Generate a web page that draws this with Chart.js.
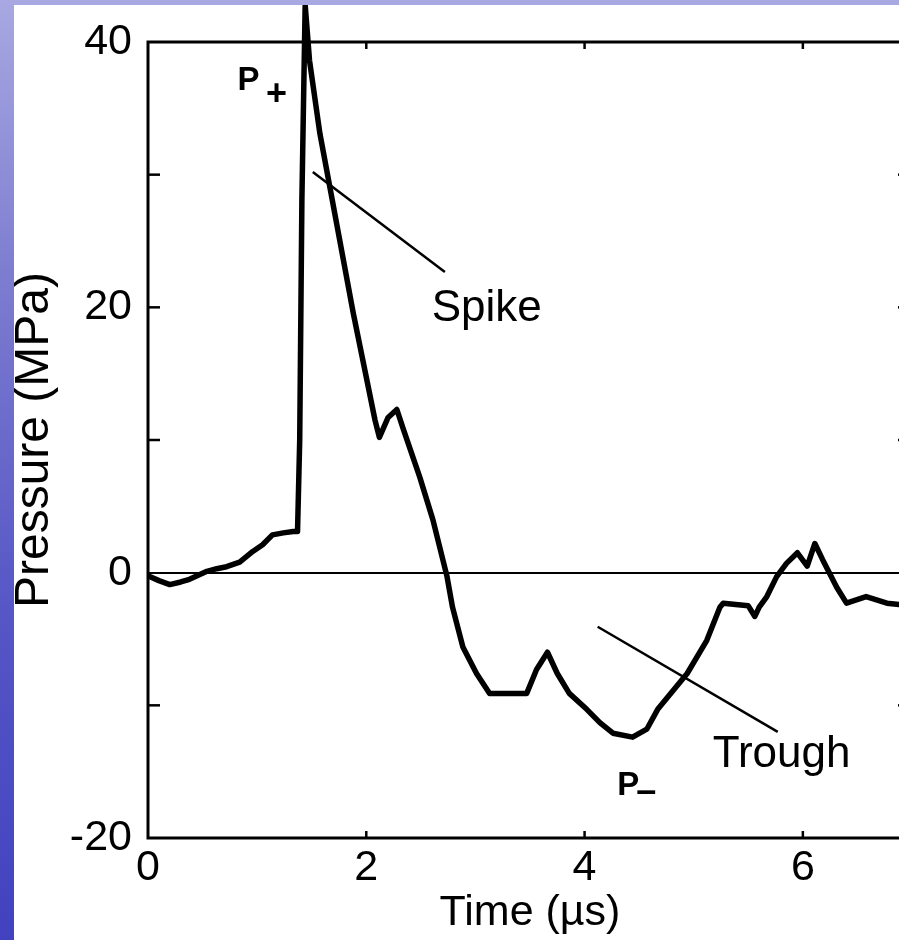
<!DOCTYPE html>
<html>
<head>
<meta charset="utf-8">
<title>Pressure trace</title>
<script src="https://cdn.jsdelivr.net/npm/chart.js@4.4.1/dist/chart.umd.min.js"></script>
<style>
  html, body { margin: 0; padding: 0; overflow: hidden; }
  body {
    width: 899px; height: 940px; position: relative;
    background: linear-gradient(to bottom, #a8a8e2 0%, #7c7cd0 30%, #5656c6 65%, #4242c0 100%);
  }
  #wrap { position: absolute; left: 14px; top: 5px; width: 920px; height: 935px; background: #fff; }
</style>
</head>
<body>
<div id="wrap"><canvas id="pressureChart"></canvas></div>
<script>
// Pressure trace
const timeUs = [0.02, 0.10, 0.20, 0.30, 0.38, 0.46, 0.54, 0.63, 0.72, 0.84, 0.96, 1.05, 1.14, 1.24, 1.33, 1.37,
  1.39, 1.41, 1.44, 1.48, 1.575, 1.67, 1.88, 2.08, 2.12, 2.20, 2.28, 2.34, 2.49, 2.61, 2.74, 2.79, 2.885,
  3.01, 3.13, 3.30, 3.47, 3.56, 3.66, 3.75, 3.86, 4.02, 4.14, 4.26, 4.44, 4.57, 4.67, 4.94, 5.12, 5.24,
  5.27, 5.50, 5.56, 5.60, 5.67, 5.76, 5.85, 5.95, 6.04, 6.11, 6.18, 6.31, 6.40, 6.58, 6.77, 6.88];
const pressureMPa = [-0.3, -0.6, -0.9, -0.7, -0.5, -0.2, 0.1, 0.3, 0.45, 0.8, 1.6, 2.1, 2.85, 3.0, 3.1, 3.1,
  10.0, 28.1, 42.8, 38.6, 33.1, 28.9, 19.6, 11.5, 10.2, 11.7, 12.3, 10.8, 7.2, 4.0, -0.3, -2.6, -5.6,
  -7.6, -9.1, -9.1, -9.1, -7.3, -6.0, -7.6, -9.1, -10.3, -11.3, -12.1, -12.4, -11.8, -10.3, -7.6, -5.1, -2.6,
  -2.3, -2.5, -3.3, -2.6, -1.8, -0.3, 0.7, 1.5, 0.5, 2.2, 1.0, -1.1, -2.3, -1.8, -2.3, -2.4];

// axis ticks
const xTickMarks = [2, 4, 6];
const yTickMarks = [-10, 10, 20, 30];

// annotations (data coordinates)
const notes = [
  { text: 'Spike', t: 2.60, p: 18.97, line: [[1.51, 30.2], [2.72, 22.67]] },
  { text: 'Trough', t: 5.174, p: -14.63, line: [[4.12, -4.08], [5.77, -12.0]] }
];
const peakLabels = [
  { text: 'P', sub: '+', t: 0.82, p: 36.4, dx: 39, dy: 5 },
  { text: 'P', sub: '\u2013', t: 4.30, p: -16.74, dx: 29, dy: -3 }
];

const FONT = '"Liberation Sans", Arial, Helvetica, sans-serif';

const framePlugin = {
  id: 'framePlugin',
  afterDatasetsDraw(chart) {
    const { ctx, chartArea: a, scales: { x, y } } = chart;
    const seg = (x1, y1, x2, y2) => { ctx.beginPath(); ctx.moveTo(x1, y1); ctx.lineTo(x2, y2); ctx.stroke(); };
    ctx.save();
    ctx.strokeStyle = '#000';
    ctx.fillStyle = '#000';
    ctx.lineWidth = 3;
    ctx.strokeRect(a.left, a.top, a.right - a.left, a.bottom - a.top);

    ctx.lineWidth = 2.5;
    yTickMarks.forEach(v => {
      const py = y.getPixelForValue(v);
      seg(a.left, py, a.left + 12, py);
      seg(a.right - 14, py, a.right, py);
    });
    xTickMarks.forEach(v => {
      const px = x.getPixelForValue(v);
      seg(px, a.bottom, px, a.bottom - 7);
      seg(px, a.top, px, a.top + 7);
    });

    // leader lines + labels
    ctx.lineWidth = 2.5;
    notes.forEach(n => {
      const [p1, p2] = n.line;
      seg(x.getPixelForValue(p1[0]), y.getPixelForValue(p1[1]), x.getPixelForValue(p2[0]), y.getPixelForValue(p2[1]));
      ctx.font = '44px ' + FONT;
      ctx.textAlign = 'left';
      ctx.textBaseline = 'alphabetic';
      ctx.fillText(n.text, x.getPixelForValue(n.t), y.getPixelForValue(n.p));
    });

    peakLabels.forEach(l => {
      const px = x.getPixelForValue(l.t), py = y.getPixelForValue(l.p);
      ctx.font = 'bold 33px ' + FONT;
      ctx.textAlign = 'left';
      ctx.textBaseline = 'alphabetic';
      ctx.fillText(l.text, px, py);
      ctx.font = 'bold 36px ' + FONT;
      ctx.textAlign = 'center';
      ctx.textBaseline = 'middle';
      ctx.fillText(l.sub, px + l.dx, py + l.dy);
    });
    ctx.restore();
  }
};

new Chart(document.getElementById('pressureChart'), {
  type: 'line',
  data: {
    datasets: [{
      data: timeUs.map((t, i) => ({ x: t, y: pressureMPa[i] })),
      borderColor: '#000',
      borderWidth: 5.5,
      borderJoinStyle: 'round',
      borderCapStyle: 'round',
      pointRadius: 0,
      tension: 0,
      fill: false,
      clip: false
    }]
  },
  options: {
    responsive: true,
    maintainAspectRatio: false,
    animation: false,
    layout: { padding: { top: 37, right: 22, bottom: 0, left: 0 } },
    plugins: { legend: { display: false }, tooltip: { enabled: false } },
    scales: {
      x: {
        type: 'linear',
        min: 0, max: 7,
        afterFit: s => { s.height = 102; s.paddingLeft = 0; s.paddingRight = 0; },
        border: { display: false },
        grid: { display: false, drawTicks: false },
        ticks: {
          stepSize: 2, padding: 4, color: '#000', maxRotation: 0,
          font: { family: FONT, size: 43 },
          callback: v => (v % 2 === 0 ? v : '')
        },
        title: {
          display: true, text: 'Time (\u00b5s)', color: '#000',
          font: { family: FONT, size: 43, lineHeight: 1 },
          padding: { top: 0, bottom: 5 }
        }
      },
      y: {
        min: -20, max: 40,
        afterFit: s => { s.width = 134; s.paddingTop = 0; s.paddingBottom = 0; },
        border: { display: false },
        grid: {
          drawTicks: false,
          color: c => (c.tick && c.tick.value === 0 ? '#000' : 'rgba(0,0,0,0)'),
          lineWidth: 2
        },
        ticks: {
          stepSize: 20, padding: 16, color: '#000',
          font: { family: FONT, size: 43 }
        },
        title: {
          display: true, text: 'Pressure (MPa)', color: '#000',
          font: { family: FONT, size: 48, lineHeight: 0.85 },
          padding: 0
        }
      }
    }
  },
  plugins: [framePlugin]
});
</script>
</body>
</html>
